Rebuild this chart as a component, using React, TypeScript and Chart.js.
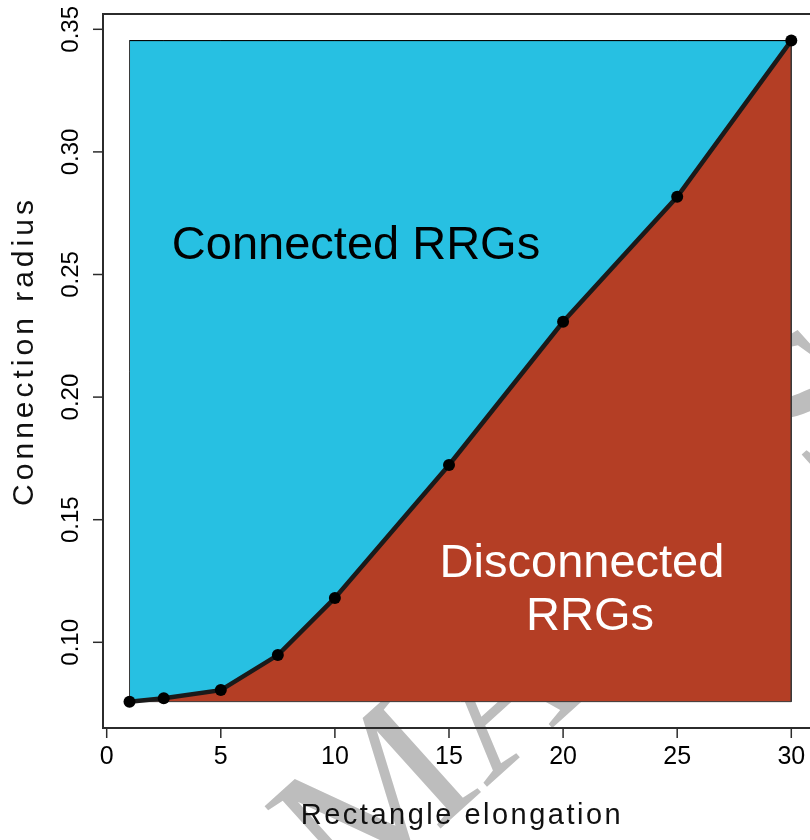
import React, { useEffect, useRef } from "react";
import { Chart, registerables } from "chart.js";

Chart.register(...registerables);

// Critical connection radius measured at each rectangle elongation
const elongation = [1, 2.5, 5, 7.5, 10, 15, 20, 25, 30];
const radius = [0.0758, 0.0772, 0.0805, 0.0948, 0.1181, 0.1723, 0.2307, 0.2817, 0.3454];

const xTicks = [0, 5, 10, 15, 20, 25, 30];
const yTicks = [0.1, 0.15, 0.2, 0.25, 0.3, 0.35];
const yTickLabels = ["0.10", "0.15", "0.20", "0.25", "0.30", "0.35"];

const xTitle = "Rectangle elongation";
const yTitle = "Connection radius";
const connectedLabel = "Connected RRGs";
const disconnectedLines = ["Disconnected", "RRGs"];
const watermark = "MANUSCRIPT";

const BLUE = "#27c0e2";
const RED = "#b43e25";
const FONT = "'Liberation Sans', Arial, Helvetica, sans-serif";

export default function App() {
  const canvasRef = useRef<HTMLCanvasElement | null>(null);

  useEffect(() => {
    const canvas = canvasRef.current;
    if (!canvas) return;

    const rMin = Math.min(...radius);
    const rMax = Math.max(...radius);
    const xFirst = elongation[0];
    const xLast = elongation[elongation.length - 1];

    const background = {
      id: "background",
      beforeDraw(chart: any) {
        const { ctx } = chart;
        ctx.save();
        ctx.fillStyle = "#ffffff";
        ctx.fillRect(0, 0, chart.width, chart.height);
        // faint diagonal watermark behind the plot
        ctx.translate(350, 910);
        ctx.rotate((-42 * Math.PI) / 180);
        ctx.font = "205px 'Liberation Serif', serif";
        ctx.fillStyle = "#bdbdbd";
        ctx.textBaseline = "alphabetic";
        ctx.fillText(watermark, 0, 0);
        ctx.restore();
      },
    };

    const axesAndText = {
      id: "axesAndText",
      afterDraw(chart: any) {
        const { ctx, chartArea } = chart;
        const xs = chart.scales.x;
        const ys = chart.scales.y;
        ctx.save();

        // plot box
        ctx.strokeStyle = "#2b2b2b";
        ctx.lineWidth = 2;
        ctx.strokeRect(chartArea.left, chartArea.top, chartArea.right - chartArea.left + 20, chartArea.bottom - chartArea.top);

        // x axis ticks and labels
        ctx.lineWidth = 1.5;
        ctx.fillStyle = "#000";
        ctx.font = `25px ${FONT}`;
        ctx.textAlign = "center";
        ctx.textBaseline = "middle";
        xTicks.forEach((t) => {
          const px = xs.getPixelForValue(t);
          ctx.beginPath();
          ctx.moveTo(px, chartArea.bottom);
          ctx.lineTo(px, chartArea.bottom + 10);
          ctx.stroke();
          ctx.fillText(String(t), px, chartArea.bottom + 29);
        });

        // y axis ticks and rotated labels
        ctx.font = `24px ${FONT}`;
        yTicks.forEach((t, i) => {
          const py = ys.getPixelForValue(t);
          ctx.beginPath();
          ctx.moveTo(chartArea.left - 10, py);
          ctx.lineTo(chartArea.left, py);
          ctx.stroke();
          ctx.save();
          ctx.translate(chartArea.left - 32, py);
          ctx.rotate(-Math.PI / 2);
          ctx.fillText(yTickLabels[i], 0, 0);
          ctx.restore();
        });

        // axis titles
        ctx.font = `29px ${FONT}`;
        ctx.fillStyle = "#111";
        (ctx as any).letterSpacing = "2.5px";
        ctx.fillText(xTitle, 462, 816);
        ctx.save();
        ctx.translate(25, 351);
        ctx.rotate(-Math.PI / 2);
        ctx.font = `30px ${FONT}`;
        (ctx as any).letterSpacing = "4px";
        ctx.fillText(yTitle, 0, 0);
        ctx.restore();
        (ctx as any).letterSpacing = "0px";

        // region labels
        ctx.font = `47px ${FONT}`;
        ctx.textBaseline = "alphabetic";
        ctx.fillStyle = "#000";
        ctx.fillText(connectedLabel, 356, 259);
        ctx.fillStyle = "#ffffff";
        ctx.fillText(disconnectedLines[0], 582, 577);
        ctx.fillText(disconnectedLines[1], 590, 630);

        ctx.restore();
      },
    };

    const chart = new Chart(canvas, {
      type: "line",
      data: {
        datasets: [
          {
            // connected region: above the threshold curve
            data: elongation.map((x) => ({ x, y: rMax })),
            borderColor: "#000",
            borderWidth: 1,
            backgroundColor: BLUE,
            pointRadius: 0,
            fill: "+1",
            order: 1,
          },
          {
            // threshold curve, disconnected region below it
            data: elongation.map((x, i) => ({ x, y: radius[i] })),
            borderColor: "#1a1a1a",
            borderWidth: 4.5,
            backgroundColor: RED,
            pointRadius: 6,
            pointBackgroundColor: "#000",
            pointBorderColor: "#000",
            pointBorderWidth: 0,
            fill: { value: rMin },
            order: 0,
          },
          {
            // outline of the parameter rectangle
            data: [
              { x: xFirst, y: rMin },
              { x: xFirst, y: rMax },
              { x: xLast, y: rMax },
              { x: xLast, y: rMin },
              { x: xFirst, y: rMin },
            ],
            borderColor: "#3a3a3a",
            borderWidth: 1,
            pointRadius: 0,
            fill: false,
            order: 2,
          },
        ],
      },
      options: {
        responsive: false,
        animation: false,
        devicePixelRatio: 1,
        layout: { autoPadding: false, padding: { left: 103, top: 14, right: 0, bottom: 112 } },
        scales: {
          x: { type: "linear", min: -0.162, max: 30.82, display: false },
          y: { type: "linear", min: 0.06505, max: 0.35624, display: false },
        },
        plugins: {
          legend: { display: false },
          tooltip: { enabled: false },
          filler: { drawTime: "beforeDatasetsDraw" },
        },
      },
      plugins: [background, axesAndText],
    });

    return () => chart.destroy();
  }, []);

  return (
    <div style={{ position: "absolute", left: 0, top: 0, width: 810, height: 840 }}>
      <canvas ref={canvasRef} width={810} height={840} />
    </div>
  );
}
